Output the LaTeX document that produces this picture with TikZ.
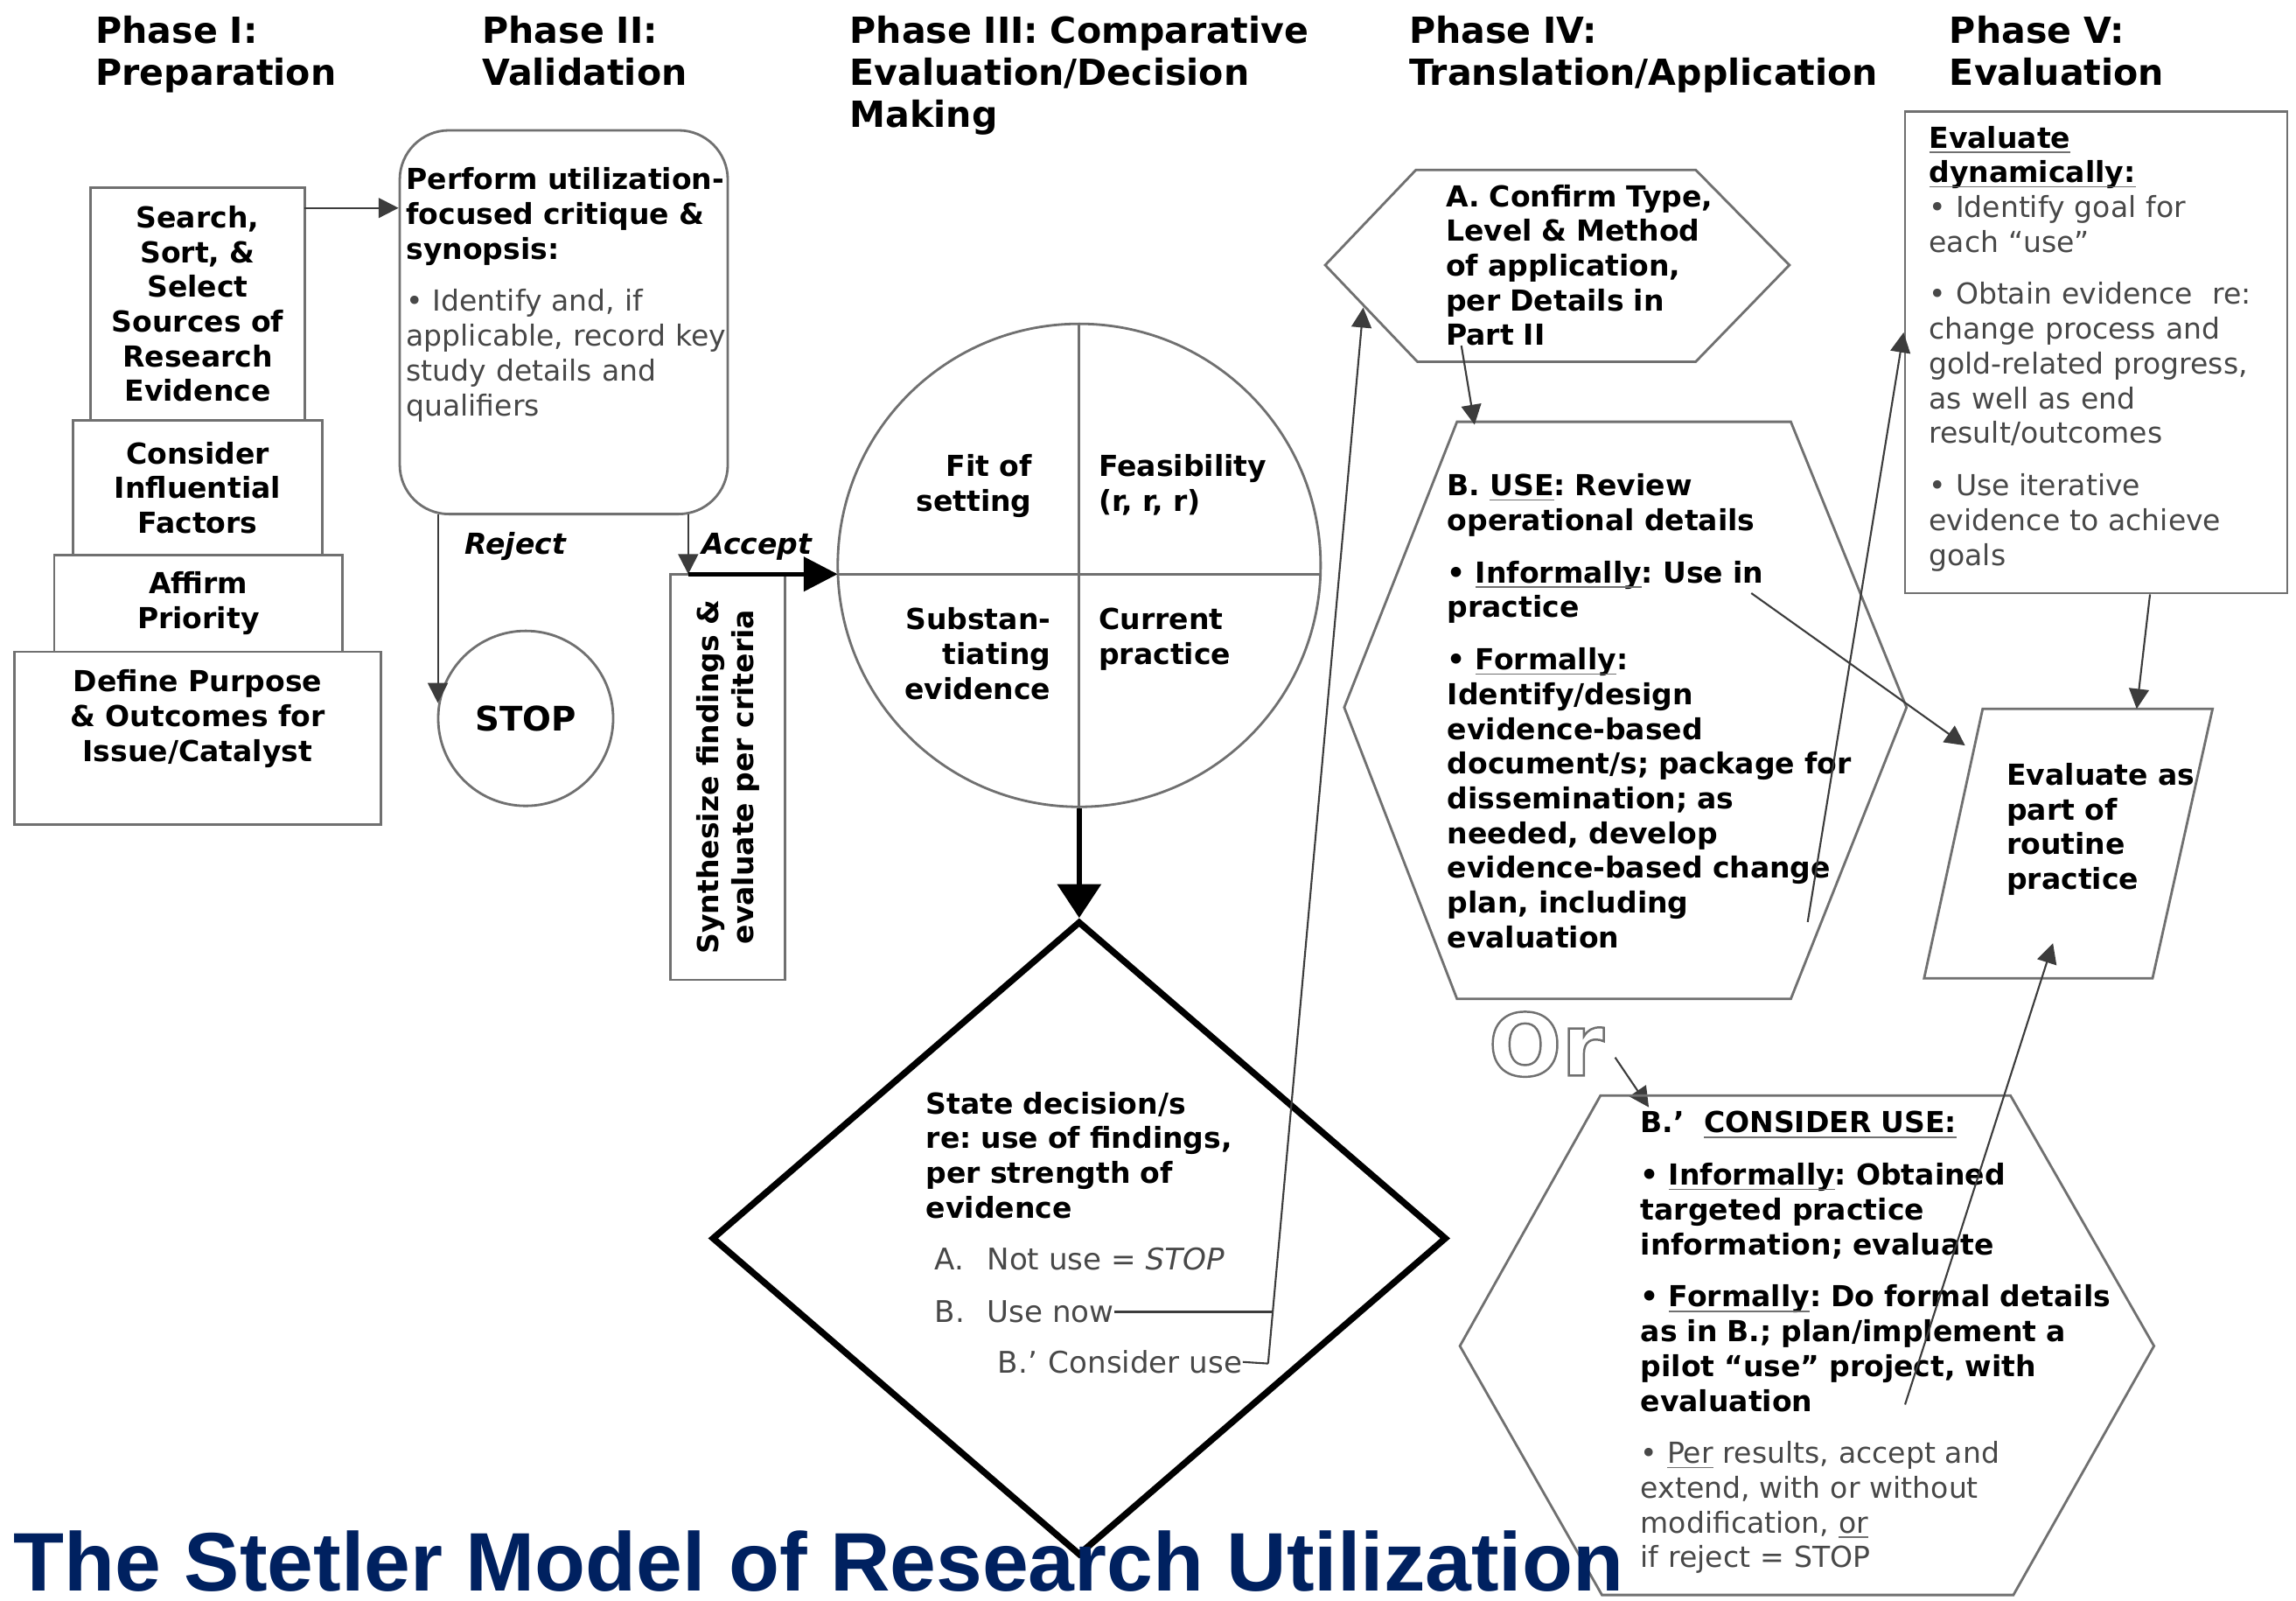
\documentclass[tikz,border=0pt]{standalone}
\usepackage{fontspec}
\setmainfont{DejaVu Sans}
\newfontfamily\titlefont{Liberation Sans}
\usetikzlibrary{arrows.meta,calc,fit,shapes.geometric}

\definecolor{stetlernavy}{RGB}{0,33,96}
\definecolor{shapegray}{RGB}{112,112,112}
\definecolor{textgray}{RGB}{72,72,72}
\definecolor{linegray}{RGB}{60,60,60}

\frenchspacing
\newcommand{\bodysize}{\fontsize{9.4}{11.3}\selectfont}
\newcommand{\headsize}{\fontsize{11.7}{13.7}\selectfont}
\newcommand{\gap}{\\[5.7pt]}
\newcommand{\grayul}[2][black]{{\color{shapegray}\underline{\raisebox{0pt}[\height][0pt]{\color{#1}#2}}}}

\tikzset{
    outline/.style={draw=shapegray, line width=0.8pt},
    box/.style={outline, inner sep=0pt},
    phasehead/.style={font=\headsize\bfseries, anchor=base west, inner sep=0pt, align=left, text width=6cm},
    boxtext/.style={font=\bodysize\bfseries, align=center, inner sep=0pt},
    boldtext/.style={font=\bodysize\bfseries, anchor=base west, inner sep=0pt, align=left, text width=#1},
    greytext/.style={font=\bodysize, text=textgray, anchor=base west, inner sep=0pt, align=left, text width=#1},
    quadtext/.style={font=\bodysize\bfseries, inner sep=0pt, text width=2.3cm},
    listitem/.style={font=\fontsize{9.7}{11.6}\selectfont, text=textgray, anchor=base west, inner sep=0pt},
    flowlabel/.style={font=\bodysize\bfseries\itshape, inner sep=0pt},
    link/.style={draw=linegray, line width=0.6pt},
    flowarrow/.style={link, -{Triangle[length=6.5pt, width=6.5pt]}},
    heavyarrow/.style={draw=black, line width=1.5pt, -{Triangle[length=11pt, width=11pt]}},
    bigarrow/.style={draw=black, line width=1.8pt, -{Triangle[length=11pt, width=14pt]}},
    decision/.style={diamond, draw=black, line width=2.1pt, minimum width=8.4cm, minimum height=7.25cm, inner sep=0pt},
}

\begin{document}
\begin{tikzpicture}[x=0.01674cm, y=-0.01674cm]
    \path[fill=white, use as bounding box] (0,0) rectangle (1568,1093);

    \node[phasehead] (ph1) at (65,29.5) {Phase I:\\Preparation};
    \node[phasehead] (ph2) at (329,29.5) {Phase II:\\Validation};
    \node[phasehead] (ph3) at (580,29.5) {Phase III: Comparative\\Evaluation/Decision\\Making};
    \node[phasehead] (ph4) at (962,29.5) {Phase IV:\\Translation/Application};
    \node[phasehead] (ph5) at (1331,29.5) {Phase V:\\Evaluation};

    \node[box, fit={(62,128) (208,287)}] (search) {};
    \node[box, fit={(50,287) (220,379)}] (factors) {};
    \node[box, fit={(37,379) (234,445)}] (priority) {};
    \node[box, fit={(10,445) (260,563)}] (purpose) {};
    \node[boxtext] (searchtxt) at (search.center) {Search,\\Sort, \&\\Select\\Sources of\\Research\\Evidence};
    \node[boxtext] (factorstxt) at (factors.center) {Consider\\Influential\\Factors};
    \node[boxtext] (prioritytxt) at (priority.center) {Affirm\\Priority};
    \node[boxtext, anchor=north] (purposetxt) at (135,457) {Define Purpose\\\& Outcomes for\\Issue/Catalyst};

    \node[box, rounded corners=16pt, fit={(273,89) (497,351)}] (critique) {};
    \node[boldtext=4.5cm] (critiquetxt) at (277,129.5) {Perform utilization-\\focused critique \&\\synopsis:\gap
        {\mdseries\color{textgray}\textbullet{} Identify and, if\\applicable, record key\\study details and\\qualifiers}};
    \coordinate (searchout) at (208,142);
    \draw[flowarrow] (searchout) -- (searchout -| critique.west);

    \node[outline, circle, inner sep=0pt, minimum size=2cm, font=\fontsize{11}{13}\selectfont\bfseries] (stop) at (359,490.5) {STOP};
    \coordinate (rejectfrom) at (299,351);
    \draw[flowarrow] (rejectfrom) -- (rejectfrom |- stop.170);
    \node[flowlabel] (rejectlbl) at (352,373) {Reject};

    \node[box, fit={(458,392) (536,669)}] (synth) {};
    \node[boxtext, rotate=90] (synthtxt) at (synth.center) {Synthesize findings \&\\evaluate per criteria};

    \node[outline, circle, inner sep=0pt, minimum size=5.52cm] (wheel) at (737,386) {};
    \coordinate (wheelwest) at (572,392);
    \coordinate (wheeleast) at (902,392);
    \draw[outline] (wheel.north) -- (wheel.south);
    \draw[outline] (wheelwest) -- (wheeleast);
    \node[quadtext, align=right, anchor=base east] (fitq) at (705,325.5) {Fit of\\setting};
    \node[quadtext, align=left, anchor=base west] (feasq) at (750,325.5) {Feasibility\\(r, r, r)};
    \node[quadtext, align=right, anchor=base east] (substq) at (718,430) {Substan-\\tiating\\evidence};
    \node[quadtext, align=left, anchor=base west] (currq) at (750,430) {Current\\practice};

    \coordinate (acceptfrom) at (470,351);
    \coordinate (acceptturn) at (470,392);
    \draw[flowarrow] (acceptfrom) -- (acceptturn);
    \draw[heavyarrow] (acceptturn) -- (wheelwest);
    \node[flowlabel] (acceptlbl) at (517,373) {Accept};

    \node[decision] (decide) at (737,845.5) {};
    \draw[bigarrow] (wheel.south) -- (decide.north);
    \node[boldtext=4.6cm] (decidetxt) at (632,760.5) {State decision/s\\re: use of findings,\\per strength of\\evidence};
    \node[listitem] (notuse) at (638,867) {\makebox[17pt][l]{A.}Not use = \textit{STOP}};
    \node[listitem] (usenow) at (638,903) {\makebox[17pt][l]{B.}Use now};
    \node[listitem] (consider) at (681,937.5) {\makebox[16.5pt][l]{B.'}Consider use};

    \coordinate (conf1) at (905,181);
    \coordinate (conf2) at (967,116);
    \coordinate (conf3) at (1158,116);
    \coordinate (conf4) at (1222,181);
    \coordinate (conf5) at (1158,247);
    \coordinate (conf6) at (968,247);
    \draw[outline] (conf1) -- (conf2) -- (conf3) -- (conf4) -- (conf5) -- (conf6) -- cycle;
    \node[boldtext=4cm] (confirmtxt) at (987,141) {A. Confirm Type,\\Level \& Method\\of application,\\per Details in\\Part II};

    \coordinate (considerjoin) at (866,931);
    \coordinate (confirmin) at (931,210);
    \coordinate (usenowjoin) at ($(considerjoin)!0.05!(confirmin)$);
    \draw[link] (usenow.east) -- (usenow.east -| usenowjoin);
    \draw[link] (consider.east) -- (considerjoin);
    \draw[flowarrow] (considerjoin) -- (confirmin);

    \coordinate (use1) at (995,288);
    \coordinate (use2) at (1223,288);
    \coordinate (use3) at (1302,483);
    \coordinate (use4) at (1223,682);
    \coordinate (use5) at (995,682);
    \coordinate (use6) at (918,483);
    \draw[outline] (use1) -- (use2) -- (use3) -- (use4) -- (use5) -- (use6) -- cycle;
    \node[boldtext=5cm] (usetxt) at (988,338.5) {B. \grayul{USE}: Review\\operational details\gap
        \textbullet{} \grayul{Informally}: Use in\\practice\gap
        \textbullet{} \grayul{Formally}:\\Identify/design\\evidence-based\\document/s; package for\\dissemination; as\\needed, develop\\evidence-based change\\plan, including\\evaluation};
    \coordinate (confirmout) at (998,236);
    \coordinate (usein) at (1007,290);
    \draw[flowarrow] (confirmout) -- (usein);

    \node[box, fit={(1301,76) (1562,405)}] (evaldyn) {};
    \node[greytext=4.6cm] (evaldyntxt) at (1317,101) {\grayul{\bfseries Evaluate}\\\grayul{\bfseries dynamically:}\\
        \textbullet{} Identify goal for\\each ``use''\gap
        \textbullet{} Obtain evidence\ \ re:\\change process and\\gold-related progress,\\as well as end\\result/outcomes\gap
        \textbullet{} Use iterative\\evidence to achieve\\goals};

    \coordinate (rout1) at (1354,484);
    \coordinate (rout2) at (1511,484);
    \coordinate (rout3) at (1470,668);
    \coordinate (rout4) at (1314,668);
    \draw[outline] (rout1) -- (rout2) -- (rout3) -- (rout4) -- cycle;
    \node[boldtext=3cm] (routinetxt) at (1370,536) {Evaluate as\\part of\\routine\\practice};
    \draw[flowarrow] ($(evaldyn.south west)!0.64!(evaldyn.south east)$) -- ($(rout1)!0.67!(rout2)$);

    \coordinate (informal) at (1196,405);
    \coordinate (routinein) at (1342,509);
    \draw[flowarrow] (informal) -- (routinein);
    \coordinate (changeout) at (1234.5,629.5);
    \coordinate (dynin) at (1300,227);
    \draw[flowarrow] (changeout) -- (dynin);

    \node[font=\fontsize{28}{30}\selectfont\bfseries, text=shapegray, inner sep=0pt] (ortxt) at (1056,713) {\special{pdf:literal direct 1 Tr 0.7 w}Or\special{pdf:literal direct 0 Tr}};
    \coordinate (orout) at (1103,722);
    \coordinate (considerin) at (1126,756);
    \draw[flowarrow] (orout) -- (considerin);

    \coordinate (cons1) at (1093,748);
    \coordinate (cons2) at (1373,748);
    \coordinate (cons3) at (1471,919);
    \coordinate (cons4) at (1375,1089);
    \coordinate (cons5) at (1094,1089);
    \coordinate (cons6) at (997,919);
    \draw[outline] (cons1) -- (cons2) -- (cons3) -- (cons4) -- (cons5) -- (cons6) -- cycle;
    \node[boldtext=6cm] (considertxt) at (1120,773.5) {B.'\ \ \grayul{CONSIDER USE:}\gap
        \textbullet{} \grayul{Informally}: Obtained\\targeted practice\\information; evaluate\gap
        \textbullet{} \grayul{Formally}: Do formal details\\as in B.; plan/implement a\\pilot ``use'' project, with\\evaluation\gap
        {\mdseries\color{textgray}\textbullet{} \grayul[textgray]{Per} results, accept and\\extend, with or without\\modification, \grayul[textgray]{or}\\if reject = STOP}};
    \coordinate (pilotout) at (1301,959);
    \coordinate (routineup) at (1402,644);
    \draw[flowarrow] (pilotout) -- (routineup);

    \node[font={\titlefont\bfseries\fontsize{27}{30}\selectfont}, text=stetlernavy, anchor=base west, inner sep=0pt] (title) at (9,1086) {The Stetler Model of Research Utilization};
\end{tikzpicture}
\end{document}
